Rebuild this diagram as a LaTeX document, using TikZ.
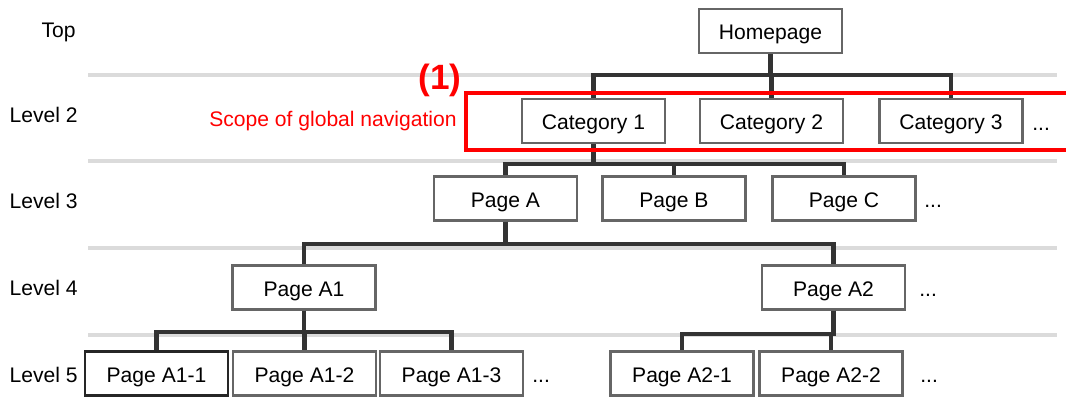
\documentclass[tikz,border=0pt]{standalone}
\usepackage{fontspec}
\setmainfont{Liberation Sans}
\tikzset{
  page/.style={draw=black!60, line width=1.4pt, fill=white, minimum width=2.86cm, minimum height=0.88cm, inner sep=0pt, text height=10.2pt, text depth=0pt, font=\fontsize{12}{14}\selectfont},
  pagedark/.style={page, draw=black!85},
  link/.style={draw=black!80, line width=2.3pt},
  guide/.style={draw=black!14, line width=2.5pt},
  levellbl/.style={anchor=base east, inner sep=0pt, font=\fontsize{12}{14}\selectfont},
  more/.style={anchor=base west, inner sep=0pt, font=\fontsize{12}{14}\selectfont},
  navscope/.style={draw=red, line width=2.3pt},
}

\begin{document}
\begin{tikzpicture}[x=0.02cm, y=-0.02cm]
    \useasboundingbox (0,0) rectangle (1066,416);
    % level separators
    \foreach \y in {75,161,248,335}
      \draw[guide] (88,\y) -- (1057,\y);
    % level names
    \node[levellbl] (ltop) at (76,37) {Top};
    \node[levellbl] (l2) at (78,122) {Level 2};
    \node[levellbl] (l3) at (78,208) {Level 3};
    \node[levellbl] (l4) at (78,295) {Level 4};
    \node[levellbl] (l5) at (78,382) {Level 5};
    % pages
    \node[page] (home) at (770.5,31) {Homepage};
    \node[page] (cat1) at (593.5,121) {Category 1};
    \node[page] (cat2) at (771.5,121) {Category 2};
    \node[page] (cat3) at (951,121) {Category 3};
    \node[page] (pa) at (505.5,198.5) {Page A};
    \node[page] (pb) at (674,198.5) {Page B};
    \node[page] (pc) at (844,198.5) {Page C};
    \node[page] (pa1) at (304,287.5) {Page A1};
    \node[page] (pa2) at (833.5,287.5) {Page A2};
    \node[pagedark] (pa11) at (156.5,373.5) {Page A1-1};
    \node[page] (pa12) at (304.5,373.5) {Page A1-2};
    \node[page] (pa13) at (451.5,373.5) {Page A1-3};
    \node[page] (pa21) at (682,373.5) {Page A2-1};
    \node[page] (pa22) at (831,373.5) {Page A2-2};
    \node[more] (m2) at (1032,130) {...};
    \node[more] (m3) at (924,207) {...};
    \node[more] (m4) at (919,296) {...};
    \node[more] (m5a) at (532,382) {...};
    \node[more] (m5b) at (920,382) {...};
    % tree links
    \foreach \c in {cat1,cat2,cat3}
      \draw[link] (home.south) -- ++(0,21) -| (\c.north);
    \foreach \c in {pa,pb,pc}
      \draw[link] (cat1.south) -- ++(0,20) -| (\c.north);
    \foreach \c in {pa1,pa2}
      \draw[link] (pa.south) -- ++(0,22) -| (\c.north);
    \foreach \c in {pa11,pa12,pa13}
      \draw[link] (pa1.south) -- ++(0,21) -| (\c.north);
    \foreach \c in {pa21,pa22}
      \draw[link] (pa2.south) -- ++(0,23) -| (\c.north);
    % global navigation scope
    \draw[navscope] (1075,93) -| (466,150) -- (1075,150);
    \node[font=\fontsize{12}{14}\selectfont, text=red, anchor=east, inner sep=0pt] (scopelbl) at (457,121) {Scope of global navigation};
    \node[font=\fontsize{20}{24}\selectfont\bfseries, text=red, inner sep=0pt] (mark) at (440,80) {(1)};
  \end{tikzpicture}
\end{document}
